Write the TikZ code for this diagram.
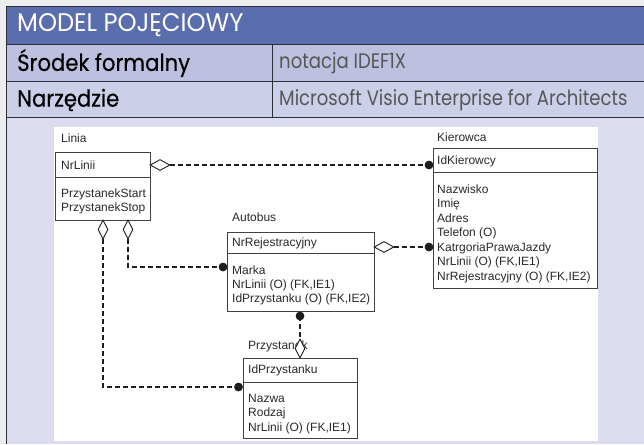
\documentclass[tikz,border=0pt]{standalone}
\usepackage{fontspec}
\setmainfont{Liberation Sans}
\newfontfamily\titlefont{Poppins}[FakeStretch=0.95]
\newfontfamily\labelfont{Poppins}[FakeStretch=0.9, FakeBold=0.4]
\newfontfamily\valuefont{Poppins}[FakeStretch=0.86]
\usetikzlibrary{shapes.geometric}

\definecolor{hdrblue}{HTML}{5A6DAD}
\definecolor{rowA}{HTML}{BDC1DF}
\definecolor{rowB}{HTML}{CCCFE8}
\definecolor{bodybg}{HTML}{DBDCEF}
\definecolor{outerbg}{HTML}{EDEDED}
\definecolor{frameline}{HTML}{2E2E36}
\definecolor{ink}{HTML}{1E1E1E}

\begin{document}
\begin{tikzpicture}[x=1pt,y=-1pt,
  ebox/.style={draw=ink!85, line width=0.8pt, fill=white, inner sep=0pt, anchor=north west},
  etext/.style={font=\fontsize{12}{14}\selectfont, text=ink!95, anchor=base west, inner sep=0pt},
  titletext/.style={font=\titlefont\fontsize{25.5}{27}\selectfont, text=white, anchor=west, inner sep=0pt},
  lbltext/.style={font=\labelfont\fontsize{23.5}{25}\selectfont, text=black, anchor=west, inner sep=0pt},
  valtext/.style={font=\valuefont\fontsize{21}{22}\selectfont, text=ink!75, anchor=west, inner sep=0pt},
  hdiam/.style={diamond, draw=ink, fill=white, line width=0.9pt, minimum width=20pt, minimum height=11pt, inner sep=0pt},
  vdiam/.style={diamond, draw=ink, fill=white, line width=0.9pt, minimum width=10pt, minimum height=19pt, inner sep=0pt},
  fdot/.style={circle, fill=ink, minimum size=8.5pt, inner sep=0pt},
  rel/.style={draw=ink, line width=1.3pt, dash pattern=on 5pt off 3pt}
]
\useasboundingbox (0,0) rectangle (644,444);

% ---- page frame and table header ----
\fill[outerbg] (0,0) rectangle (644,444);
\fill[bodybg] (6,117) rectangle (644,444);
\fill[hdrblue] (6,7) rectangle (644,44);
\fill[rowA] (6,44) rectangle (644,81);
\fill[rowB] (6,81) rectangle (644,117);
\draw[frameline, line width=1pt] (6,444) -- (6,7) -- (644,7);
\draw[frameline, line width=0.9pt] (6,44) -- (644,44) (6,81) -- (644,81) (6,117) -- (644,117);
\draw[frameline, line width=0.9pt] (272,44) -- (272,117);

\node[titletext] (title) at (17,25) {MODEL POJĘCIOWY};
\node[lbltext] (lbl-srodek) at (17,63) {Środek formalny};
\node[valtext] (val-srodek) at (279,63) {notacja IDEF1X};
\node[lbltext] (lbl-narz) at (17,100) {Narzędzie};
\node[valtext] (val-narz) at (279,100) {Microsoft Visio Enterprise for Architects};

% ---- diagram panel ----
\fill[white] (54,127) rectangle (598,441);

% Linia
\node[etext] (linia-name) at (61,142.3) {Linia};
\node[ebox, minimum width=95pt, minimum height=68pt] (linia) at (55,152) {};
\draw[ink!85, line width=0.8pt] (55,177) -- (150,177);
\node[etext] (linia-k) at (61,169.3) {NrLinii};
\node[etext] (linia-a1) at (61,197.3) {PrzystanekStart};
\node[etext] (linia-a2) at (61,211.3) {PrzystanekStop};

% Kierowca
\node[etext] (kier-name) at (437,141.3) {Kierowca};
\node[ebox, minimum width=164pt, minimum height=140pt] (kier) at (433,148) {};
\draw[ink!85, line width=0.8pt] (433,172) -- (597,172);
\node[etext] (kier-k) at (437,164.3) {IdKierowcy};
\foreach \t [count=\i] in {Nazwisko, Imię, Adres, {Telefon (O)}, KatrgoriaPrawaJazdy,
    {NrLinii (O) (FK,IE1)}, {NrRejestracyjny (O) (FK,IE2)}}
  \node[etext] (kier-a\i) at (437,{193.3+14.5*(\i-1)}) {\t};

% Autobus
\node[etext] (auto-name) at (232,221.3) {Autobus};
\node[ebox, minimum width=147pt, minimum height=79pt] (auto) at (227,232) {};
\draw[ink!85, line width=0.8pt] (227,253) -- (374,253);
\node[etext] (auto-k) at (232,246.3) {NrRejestracyjny};
\foreach \t [count=\i] in {Marka, {NrLinii (O) (FK,IE1)}, {IdPrzystanku (O) (FK,IE2)}}
  \node[etext] (auto-a\i) at (232,{274.3+14.2*(\i-1)}) {\t};

% Przystanek
\node[etext] (przy-name) at (248,349.3) {Przystanek};
\node[ebox, minimum width=114pt, minimum height=80pt] (przy) at (243,358) {};
\draw[ink!85, line width=0.8pt] (243,382) -- (357,382);
\node[etext] (przy-k) at (248,373.3) {IdPrzystanku};
\foreach \t [count=\i] in {Nazwa, Rodzaj, {NrLinii (O) (FK,IE1)}}
  \node[etext] (przy-a\i) at (248,{402.3+14.5*(\i-1)}) {\t};

% ---- relationships ----
% Linia -- Kierowca
\node[hdiam] (d-lk) at (160,165) {};
\node[fdot] (e-lk) at (429,165) {};
\draw[rel] (d-lk.east) -- (e-lk.center);
\node[fdot] at (e-lk) {};

% Autobus -- Kierowca
\node[hdiam] (d-ak) at (384,247) {};
\node[fdot] (e-ak) at (429,247) {};
\draw[rel] (d-ak.east) -- (e-ak.center);
\node[fdot] at (e-ak) {};

% Linia -- Autobus
\node[vdiam] (d-la) at (128,229.5) {};
\node[fdot] (e-la) at (223,267) {};
\draw[rel] (d-la.south) |- (e-la.center);
\node[fdot] at (e-la) {};

% Linia -- Przystanek
\node[vdiam] (d-lp) at (103,229.5) {};
\node[fdot] (e-lp) at (238.5,387) {};
\draw[rel] (d-lp.south) |- (e-lp.center);
\node[fdot] at (e-lp) {};

% Autobus -- Przystanek
\node[fdot] (e-ap) at (300,316) {};
\node[vdiam] (d-ap) at (300,348.5) {};
\draw[rel] (e-ap.center) -- (d-ap.north);
\node[fdot] at (e-ap) {};
\end{tikzpicture}
\end{document}
